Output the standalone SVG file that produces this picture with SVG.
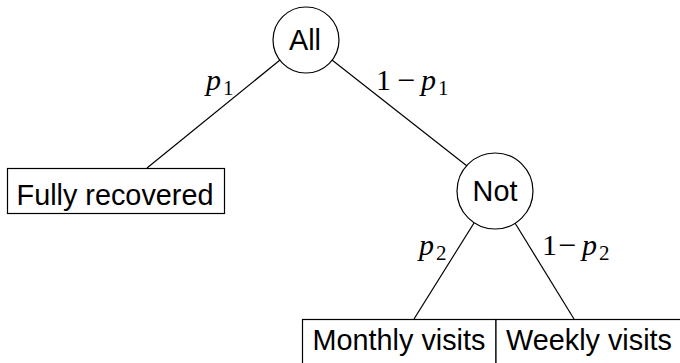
<svg xmlns="http://www.w3.org/2000/svg" width="680" height="363" viewBox="0 0 680 363">
<style>
.n{fill:#fff;stroke:#000;stroke-width:1.2}
.t{font-family:"Liberation Sans",Arial,sans-serif;font-size:28.8px;fill:#000;text-anchor:middle}
.m{font-family:"Liberation Serif","Times New Roman",serif;font-size:30px;fill:#000}
.i{font-style:italic}
.s{font-size:21px}
.mi{font-size:32px}
.e{stroke:#000;stroke-width:1.2;fill:none}
</style>
<rect width="680" height="363" fill="#fff"/>
<g id="edges">
<line class="e" x1="280" y1="60" x2="147" y2="168"/>
<line class="e" x1="332" y1="60" x2="467" y2="166"/>
<line class="e" x1="474" y1="223" x2="414" y2="319"/>
<line class="e" x1="515" y1="223" x2="574" y2="319"/>
<text class="m" y="90"><tspan class="i" x="206">p</tspan><tspan class="s" x="223" y="95">1</tspan></text>
<text class="m" y="90"><tspan x="376">1</tspan><tspan class="mi" x="397" y="91">−</tspan><tspan class="i" x="421" y="90">p</tspan><tspan class="s" x="438" y="95">1</tspan></text>
<text class="m" y="255"><tspan class="i" x="419">p</tspan><tspan class="s" x="436" y="260">2</tspan></text>
<text class="m" y="255"><tspan x="542">1</tspan><tspan class="mi" x="558" y="256">−</tspan><tspan class="i" x="582" y="255">p</tspan><tspan class="s" x="599" y="260">2</tspan></text>
</g>
<g id="all">
<circle class="n" cx="306" cy="40" r="33"/>
<text class="t" x="305" y="50">All</text>
</g>
<g id="fully">
<rect class="n" x="7.5" y="168.5" width="217" height="45"/>
<text class="t" x="115" y="205">Fully recovered</text>
</g>
<g id="not">
<circle class="n" cx="495" cy="191" r="38"/>
<text class="t" x="495" y="201">Not</text>
</g>
<g id="monthly">
<rect class="n" x="302.5" y="319.5" width="193.5" height="50"/>
<text class="t" x="399" y="350">Monthly visits</text>
</g>
<g id="weekly">
<rect class="n" x="496" y="319.5" width="190" height="50"/>
<text class="t" x="589" y="350">Weekly visits</text>
</g>
</svg>
